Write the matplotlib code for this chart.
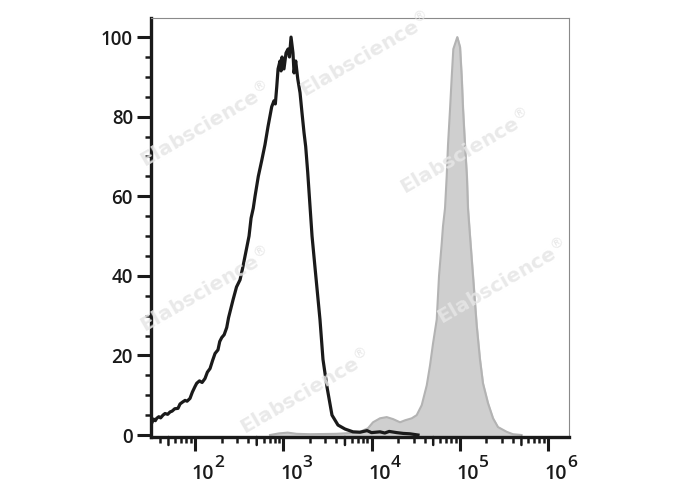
import numpy as np
import matplotlib
matplotlib.use("Agg")
import matplotlib.pyplot as plt
from matplotlib.ticker import FixedLocator, NullFormatter

# Curva preta (controle) - eixo x em log10
black_log = [1.509, 1.53, 1.55, 1.566, 1.59, 1.61, 1.637, 1.66, 1.69, 1.717,
             1.74, 1.77, 1.807, 1.83, 1.86, 1.887, 1.91, 1.943, 1.97, 2.00,
             2.019, 2.05, 2.08, 2.113, 2.14, 2.17, 2.20, 2.227, 2.26, 2.28,
             2.303, 2.33, 2.359, 2.38, 2.397, 2.431, 2.47, 2.51, 2.54, 2.567,
             2.612, 2.635, 2.66, 2.68, 2.717, 2.756, 2.793, 2.827, 2.869, 2.895,
             2.91, 2.926, 2.941, 2.963, 2.975, 2.986, 3.008, 3.031, 3.054, 3.07,
             3.088, 3.11, 3.122, 3.141, 3.164, 3.19, 3.212, 3.235, 3.254, 3.277,
             3.303, 3.326, 3.36, 3.416, 3.45, 3.496, 3.552, 3.62, 3.70, 3.79,
             3.87, 3.95, 4.00, 4.096, 4.15, 4.20, 4.286, 4.36, 4.436, 4.527]
black_y = [3.0, 4.0, 3.6, 4.2, 4.6, 4.3, 5.0, 5.4, 5.2, 5.8,
           6.0, 6.6, 6.7, 7.8, 8.3, 8.7, 8.5, 9.2, 10.8, 12.2,
           13.0, 13.6, 13.2, 14.2, 15.8, 16.7, 18.8, 20.5, 21.4, 23.5,
           24.5, 25.2, 27.0, 29.5, 31.0, 34.0, 37.2, 39.0, 42.0, 45.0,
           50.0, 54.5, 57.0, 60.0, 65.0, 69.0, 73.0, 77.5, 82.5, 84.0,
           83.2, 87.5, 92.0, 94.0, 91.5, 95.0, 92.0, 96.0, 97.0, 95.0,
           100.0, 96.0, 91.0, 94.0, 89.5, 86.0, 81.0, 76.0, 72.5, 66.0,
           57.5, 50.0, 42.0, 29.0, 19.0, 12.0, 5.0, 2.5, 1.5, 0.8,
           0.7, 1.1, 0.6, 0.8, 0.5, 0.9, 0.6, 0.4, 0.3, 0.0]

# Curva cinza (amostra marcada)
grey_log = [2.85, 2.95, 3.05, 3.15, 3.30, 3.60, 3.85, 3.96, 4.017, 4.096,
            4.172, 4.244, 4.323, 4.38, 4.456, 4.512, 4.569, 4.626, 4.663, 4.697,
            4.739, 4.765, 4.795, 4.81, 4.833, 4.852, 4.867, 4.89, 4.909, 4.927,
            4.972, 5.003, 5.022, 5.037, 5.059, 5.081, 5.093, 5.116, 5.15, 5.192,
            5.229, 5.263, 5.32, 5.377, 5.433, 5.532, 5.603, 5.70]
grey_y = [0.0, 0.4, 0.6, 0.3, 0.2, 0.3, 0.6, 1.7, 3.2, 4.2,
          4.5, 4.0, 3.2, 3.7, 4.2, 5.0, 7.5, 12.5, 17.5, 23.0,
          29.0, 40.0, 48.0, 52.5, 57.0, 65.0, 73.0, 82.0, 90.0, 97.0,
          100.0, 97.5, 90.0, 82.0, 73.0, 65.0, 57.0, 50.0, 40.0, 27.5,
          19.0, 13.0, 8.0, 4.2, 2.0, 0.8, 0.2, 0.0]

y_ticks = [0, 20, 40, 60, 80, 100]
x_major = [1e2, 1e3, 1e4, 1e5, 1e6]
x_exps = ["2", "3", "4", "5", "6"]

plt.rcParams['font.family'] = ['Open Sans', 'DejaVu Sans']

fig = plt.figure(figsize=(6.88, 4.90), dpi=100)
ax = fig.add_axes([151 / 688, 53 / 490, 418 / 688, 419 / 490])

gx = 10 ** np.array(grey_log)
ax.fill_between(gx, 0, grey_y, color='#cfcfcf', zorder=1)
ax.plot(gx, grey_y, color='#b3b3b3', lw=1.5, zorder=2)

bx = 10 ** np.array(black_log)
ax.plot(bx, black_y, color='#1a1a1a', lw=2.3, zorder=3)

ax.set_xscale('log')
ax.set_xlim(10 ** 1.501, 10 ** 6.238)
ax.set_ylim(-0.5, 104.8)

# Ticks do eixo x
ax.xaxis.set_major_locator(FixedLocator(x_major))
ax.xaxis.set_major_formatter(NullFormatter())
small = [m * 10 ** d for d in range(1, 7) for m in (2, 3, 4, 6, 7, 8, 9)]
mid = [5 * 10 ** d for d in range(1, 7)]
ax.xaxis.set_minor_locator(FixedLocator(small))
ax.xaxis.set_minor_formatter(NullFormatter())
for v in mid:
    if 10 ** 1.501 < v < 10 ** 6.238:
        ax.annotate('', xy=(v, 0), xycoords=('data', 'axes fraction'),
                    xytext=(0, -8), textcoords='offset pixels',
                    arrowprops=dict(arrowstyle='-', lw=1.8, color='#1a1a1a',
                                    shrinkA=0, shrinkB=0))

# Rótulos 10^n feitos à mão (expoente grande como no original)
for v, e in zip(x_major, x_exps):
    ax.annotate("10", xy=(v, 0), xycoords=('data', 'axes fraction'),
                xytext=(8, -42), textcoords='offset pixels',
                ha='center', va='baseline', fontsize=14, fontweight='semibold',
                color='#1a1a1a')
    ax.annotate(e, xy=(v, 0), xycoords=('data', 'axes fraction'),
                xytext=(24, -30), textcoords='offset pixels',
                ha='center', va='baseline', fontsize=12.5, fontweight='semibold',
                color='#1a1a1a')

# Ticks do eixo y
ax.set_yticks(y_ticks)
ax.set_yticks(np.arange(0, 105, 5), minor=True)
for lab in ax.get_yticklabels():
    lab.set_fontweight('semibold')

ax.tick_params(axis='both', which='major', direction='out', length=10, width=2.2,
               color='#1a1a1a', labelsize=13.5, labelcolor='#1a1a1a')
ax.tick_params(axis='y', which='major', pad=3)
ax.tick_params(axis='both', which='minor', direction='out', length=4.5,
               width=1.8, color='#1a1a1a')

for s in ['left', 'bottom']:
    ax.spines[s].set_linewidth(2.4)
    ax.spines[s].set_color('#1a1a1a')
for s in ['top', 'right']:
    ax.spines[s].set_linewidth(0.8)
    ax.spines[s].set_color('#8a8a8a')

# Marcas d'água
wm_pos = [(205, 125), (365, 55), (465, 152), (205, 290), (305, 392), (502, 282)]
for px, py in wm_pos:
    fig.text(px / 688, 1 - py / 490, "Elabscience$^{\u00ae}$", rotation=30,
             ha='center', va='center', fontsize=14.5, fontweight='bold',
             color='#e6e6e6', alpha=0.85, zorder=10,
             family=['DejaVu Sans'])

fig.savefig("out.png", dpi=100)
